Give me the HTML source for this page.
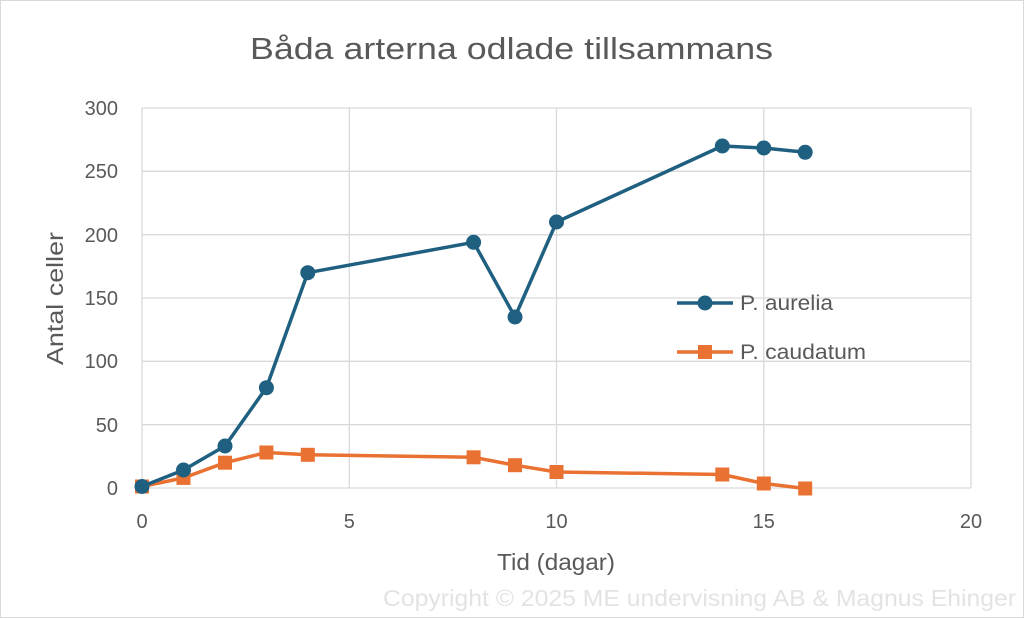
<!DOCTYPE html>
<html><head><meta charset="utf-8"><style>
html,body{margin:0;padding:0;background:#fff}
svg{display:block}
text{font-family:"Liberation Sans",sans-serif}
</style></head><body>
<svg width="1024" height="618" viewBox="0 0 1024 618" xmlns="http://www.w3.org/2000/svg">
<rect x="0.5" y="0.5" width="1023" height="617" fill="#fff" stroke="#d9d9d9"/>
<text x="250" y="59" font-size="31" fill="#595959" textLength="523" lengthAdjust="spacingAndGlyphs">Båda arterna odlade tillsammans</text>
<g stroke="#d9d9d9" stroke-width="1.3">
<line x1="142" y1="108" x2="971" y2="108"/>
<line x1="142" y1="171.3" x2="971" y2="171.3"/>
<line x1="142" y1="234.7" x2="971" y2="234.7"/>
<line x1="142" y1="298" x2="971" y2="298"/>
<line x1="142" y1="361.3" x2="971" y2="361.3"/>
<line x1="142" y1="424.7" x2="971" y2="424.7"/>
<line x1="142" y1="488" x2="971" y2="488"/>
<line x1="142" y1="108" x2="142" y2="488"/>
<line x1="349.3" y1="108" x2="349.3" y2="488"/>
<line x1="556.5" y1="108" x2="556.5" y2="488"/>
<line x1="763.8" y1="108" x2="763.8" y2="488"/>
<line x1="971" y1="108" x2="971" y2="488"/>
</g>
<g font-size="20" fill="#595959" text-anchor="end">
<text x="118" y="115">300</text><text x="118" y="178">250</text><text x="118" y="242">200</text>
<text x="118" y="305">150</text><text x="118" y="368">100</text><text x="118" y="432">50</text><text x="118" y="495">0</text>
</g>
<g font-size="20" fill="#595959" text-anchor="middle">
<text x="142" y="528">0</text><text x="349.3" y="528">5</text><text x="556.5" y="528">10</text>
<text x="763.8" y="528">15</text><text x="971" y="528">20</text>
</g>
<text x="497" y="570" font-size="23" fill="#595959" textLength="118" lengthAdjust="spacingAndGlyphs">Tid (dagar)</text>
<text transform="translate(63,365) rotate(-90)" font-size="23" fill="#595959" textLength="133" lengthAdjust="spacingAndGlyphs">Antal celler</text>
<polyline fill="none" stroke="#e97132" stroke-width="3.5" stroke-linejoin="round" points="142,486.5 183.5,477.9 225,462.7 266.4,452.5 307.8,454.8 473.6,457.3 515,465.2 556.5,472 722.3,474.5 763.8,483.5 805.2,488.5"/>
<g fill="#e97132">
<rect x="135" y="479.5" width="14" height="14"/><rect x="176.5" y="470.9" width="14" height="14"/><rect x="218" y="455.7" width="14" height="14"/><rect x="259.4" y="445.5" width="14" height="14"/><rect x="300.8" y="447.8" width="14" height="14"/><rect x="466.6" y="450.3" width="14" height="14"/><rect x="508" y="458.2" width="14" height="14"/><rect x="549.5" y="465" width="14" height="14"/><rect x="715.3" y="467.5" width="14" height="14"/><rect x="756.8" y="476.5" width="14" height="14"/><rect x="798.2" y="481.5" width="14" height="14"/>
</g>
<polyline fill="none" stroke="#1f5f80" stroke-width="3.5" stroke-linejoin="round" points="142,486.5 183.5,470 225,446 266.4,387.7 307.8,272.7 473.6,242.3 515,317 556.5,222 722.3,146 763.8,148 805.2,152.3"/>
<g fill="#1f5f80">
<circle cx="142" cy="486.5" r="7.5"/><circle cx="183.5" cy="470" r="7.5"/><circle cx="225" cy="446" r="7.5"/><circle cx="266.4" cy="387.7" r="7.5"/><circle cx="307.8" cy="272.7" r="7.5"/><circle cx="473.6" cy="242.3" r="7.5"/><circle cx="515" cy="317" r="7.5"/><circle cx="556.5" cy="222" r="7.5"/><circle cx="722.3" cy="146" r="7.5"/><circle cx="763.8" cy="148" r="7.5"/><circle cx="805.2" cy="152.3" r="7.5"/>
</g>
<line x1="677" y1="303" x2="733" y2="303" stroke="#1f5f80" stroke-width="3.5"/>
<circle cx="705" cy="303" r="7.5" fill="#1f5f80"/>
<text x="740" y="310" font-size="21" fill="#595959" textLength="93" lengthAdjust="spacingAndGlyphs">P. aurelia</text>
<line x1="677" y1="352" x2="733" y2="352" stroke="#e97132" stroke-width="3.5"/>
<rect x="698" y="345" width="14" height="14" fill="#e97132"/>
<text x="740" y="359" font-size="21" fill="#595959" textLength="126" lengthAdjust="spacingAndGlyphs">P. caudatum</text>
<text x="383" y="606" font-size="23" fill="#e3e3e3" textLength="633" lengthAdjust="spacingAndGlyphs">Copyright © 2025 ME undervisning AB &amp; Magnus Ehinger</text>
</svg>
</body></html>
